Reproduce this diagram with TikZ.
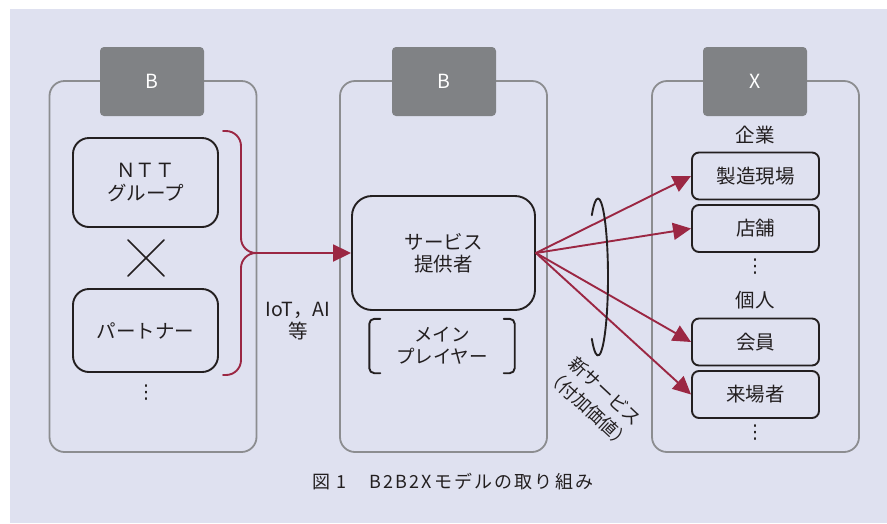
\documentclass[tikz,border=0pt]{standalone}
\usepackage{fontspec}
\setmainfont{Noto Sans CJK JP}
\newfontfamily\capfont[LetterSpace=12]{Noto Sans CJK JP}
\newfontfamily\symfont{DejaVu Sans}
\usetikzlibrary{arrows.meta,calc,positioning}
\definecolor{bxInk}{HTML}{231F20}
\definecolor{bxRed}{HTML}{9B2743}
\definecolor{bxGray}{HTML}{8C8D90}
\definecolor{bxHead}{HTML}{808285}
\definecolor{bxBack}{HTML}{DFE1F0}
\tikzset{
 biz/.style={x=1pt,y=-1pt,text=bxInk,font=\fontsize{19.5}{22.5}\selectfont,line cap=round,line join=round},
 panel/.style={rectangle,draw=bxGray,line width=1.8pt,rounded corners=15pt,minimum width=207pt,minimum height=371pt,inner sep=0pt},
 head/.style={rectangle,fill=bxHead,rounded corners=4pt,minimum width=104pt,minimum height=69pt,inner sep=0pt,text=white},
 actor/.style={rectangle,draw=bxInk,line width=1.9pt,rounded corners=16pt,minimum width=145pt,align=center,inner sep=0pt},
 target/.style={rectangle,draw=bxInk,line width=1.9pt,rounded corners=7pt,minimum width=127pt,minimum height=47pt,inner sep=0pt},
 role/.style={rectangle,minimum width=145pt,minimum height=54pt,align=center,inner sep=0pt,font=\fontsize{18.5}{22}\selectfont},
 tag/.style={align=center,inner sep=0pt},
 more/.style={inner sep=0pt,font=\symfont\fontsize{19}{19}\selectfont},
 bracket/.style={draw=bxInk,line width=1.9pt,rounded corners=5pt},
 times/.style={draw=bxInk,line width=1.7pt},
 lasso/.style={draw=bxInk,line width=1.9pt},
 brace/.style={draw=bxRed,line width=1.9pt,rounded corners=15pt},
 feed/.style={draw=bxRed,line width=1.9pt,-{Triangle[length=18pt,width=17pt]}},
 caption/.style={font=\capfont\fontsize{18}{20}\selectfont,inner sep=0pt}
}

\begin{document}
\begin{tikzpicture}[biz]
 \useasboundingbox (0,0) rectangle (887,523);
 \fill[bxBack] (10,9) rectangle (887,523);
 % three columns
 \node[panel] (pB1) at (153,266.5) {};
 \node[panel] (pB2) at (443.5,266.5) {};
 \node[panel] (pX) at (755.5,266.5) {};
 \node[head] (hB1) at (152,81.5) {B};
 \node[head] (hB2) at (444,81.5) {B};
 \node[head] (hX) at (755,81.5) {X};
 % left column
 \node[actor,minimum height=89pt] (ntt) at (145.5,182.5) {ＮＴＴ\\グループ};
 \node[actor,minimum height=83pt] (ptn) at (145.5,330.5) {パートナー};
 \coordinate (cross) at (146,258);
 \draw[times] ($(cross)+(-18,-18)$) -- ($(cross)+(18,18)$);
 \draw[times] ($(cross)+(-18,18)$) -- ($(cross)+(18,-18)$);
 \node[more] (ld) at (146,393) {⋮};
 % middle column
 \node[actor,minimum width=183pt,minimum height=114pt,rounded corners=20pt] (svc) at (443.5,253) {サービス\\提供者};
 \node[role] (mp) at (442,346) {メイン\\プレイヤー};
 \draw[bracket] ($(mp.north west)+(11,0)$) -- (mp.north west) -- (mp.south west) -- ++(11,0);
 \draw[bracket] ($(mp.north east)+(-11,0)$) -- (mp.north east) -- (mp.south east) -- ++(-11,0);
 % right column
 \node[tag] (corp) at (755,135) {企業};
 \node[target] (mfg) at (755.5,176) {製造現場};
 \node[target] (shop) at (755.5,228.5) {店舗};
 \node[more] (rd1) at (755,267) {⋮};
 \node[tag] (indv) at (755,300) {個人};
 \node[target] (mem) at (755.5,342) {会員};
 \node[target] (vis) at (755.5,394.5) {来場者};
 \node[more] (rd2) at (755,433) {⋮};
 % brace into the provider
 \coordinate (bt) at (223,131);
 \coordinate (bb) at (223,375);
 \coordinate (cusp) at (241,253);
 \draw[brace] (bb) -| (cusp) -- ++(20,0);
 \draw[brace,feed] (bt) -| (cusp) -- (svc.west);
 \node[tag] (tech) at (298,321) {IoT，AI\\等};
 % new services out to X
 \foreach \t in {mfg,shop,mem,vis}
  \draw[feed] (svc.east) -- (\t.west);
 \coordinate (loop) at (598,277);
 \draw[lasso] (loop) ++(128:10 and 78.5) arc[start angle=128,end angle=-128,x radius=10,y radius=78.5];
 \node[tag,rotate=-43,font=\fontsize{18}{24}\selectfont] (nsv) at (597,400) {新サービス\\（付加価値）};
 \node[caption] (cap) at (453,482) {図 1　B2B2Xモデルの取り組み};
\end{tikzpicture}
\end{document}
